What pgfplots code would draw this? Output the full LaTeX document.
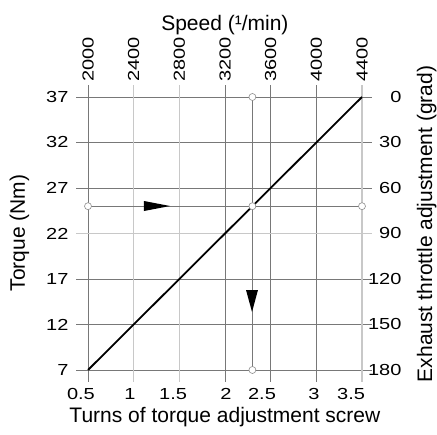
\documentclass[border=0pt]{standalone}
\usepackage{fontspec}
\setmainfont{Liberation Sans}
\newfontfamily\tickfont[FakeStretch=1.25]{Liberation Sans}
\usepackage{pgfplots}
\pgfplotsset{compat=1.18}
\definecolor{gdark}{RGB}{120,120,120}
\definecolor{glight}{RGB}{200,200,200}
\definecolor{mgray}{RGB}{140,140,140}
\pgfplotsset{
  base/.style={
    scale only axis, width=296pt, height=297pt,
    xmin=0.3686, xmax=3.6095, ymin=5.681, ymax=38.319,
    at={(76pt,53pt)}, anchor=south west,
    axis line style={draw=none},
    major tick length=0pt, minor tick length=0pt,
    tick label style={font=\tickfont\fontsize{16}{16}\selectfont},
    /pgf/number format/assume math mode=true,
  }
}
\begin{document}
\begin{tikzpicture}
% main axis: grid, data, left labels
\begin{axis}[base,
  xtick={0.5,2,2.5,3}, extra x ticks={1,1.5,3.5},
  xticklabels={}, extra x tick labels={},
  ytick={7,12,17,27,32,37}, extra y ticks={22},
  xmajorgrids, ymajorgrids,
  major grid style={gdark, line width=0.8pt},
  extra tick style={major grid style={glight, line width=1.6pt}},
  yticklabel style={xshift=-4pt},
  ylabel={Torque (Nm)},
  every axis y label/.style={at={(axis description cs:-0.1723,0.5017)}, rotate=90, anchor=base, font=\fontsize{21}{25}\selectfont},
]
\addplot[gdark, line width=0.8pt] coordinates {(2.3,7) (2.3,37)};
\addplot[gdark, line width=0.8pt] coordinates {(0.5,25) (3.5,25)};
\addplot[black, line width=1.8pt] coordinates {(0.5,7) (3.5,37)};
\addplot[only marks, mark=*, mark size=3.5pt, mark options={fill=white, draw=mgray, line width=0.6pt}]
  coordinates {(2.3,37) (2.3,25) (2.3,7) (0.5,25) (3.5,25)};
\addplot[fill=black, draw=none] coordinates {(1.113,25.57) (1.398,25.02) (1.113,24.47)} -- cycle;
\addplot[fill=black, draw=none] coordinates {(2.230,15.79) (2.361,15.79) (2.296,13.37)} -- cycle;
\end{axis}
% bottom labels
\begin{axis}[base, hide y axis,
  xtick={0.423,0.960,1.431,2.011,2.405,2.975,3.380},
  xticklabels={0.5,1,1.5,2,2.5,3,3.5},
  xticklabel style={yshift=-3pt},
  xlabel={Turns of torque adjustment screw},
  every axis x label/.style={at={(axis description cs:0.503,0)}, anchor=base, yshift=-41pt, font=\fontsize{21}{25}\selectfont},
]
\end{axis}
% top labels
\begin{axis}[base, hide y axis,
  xticklabel pos=top,
  xtick={0.5,1,1.5,2,2.5,3,3.5},
  xticklabels={2000,2400,2800,3200,3600,4000,4400},
  xticklabel style={rotate=90, anchor=west},
  xlabel={Speed (¹/min)},
  every axis x label/.style={at={(axis description cs:0.503,1)}, anchor=base, yshift=54pt, font=\fontsize{21}{25}\selectfont},
]
\end{axis}
% right labels
\begin{axis}[base, hide x axis,
  yticklabel pos=right,
  ytick={7,12,17,22,27,32,37},
  yticklabels={180,150,120,90,60,30,0},
  yticklabel style={anchor=east, xshift=33pt},
  ylabel={Exhaust throttle adjustment (grad)},
  every axis y label/.style={at={(axis description cs:1.2027,0.532)}, rotate=90, anchor=base, font=\fontsize{21}{25}\selectfont},
]
\end{axis}
\pgfresetboundingbox
\useasboundingbox (0,0) rectangle (437pt,435pt);
\end{tikzpicture}
\end{document}
